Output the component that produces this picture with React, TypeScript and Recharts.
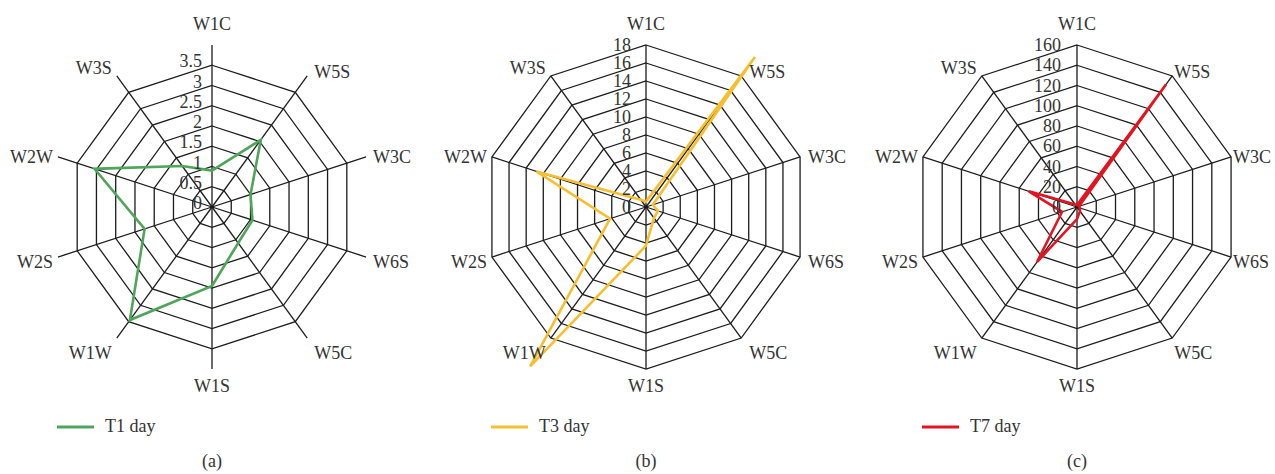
import React from 'react';
import {
  RadarChart,
  Radar,
  PolarGrid,
  PolarAngleAxis,
  PolarRadiusAxis,
  Legend,
} from 'recharts';

// Sampling sites, clockwise from the top
const sites = ['W1C', 'W5S', 'W3C', 'W6S', 'W5C', 'W1S', 'W1W', 'W2S', 'W2W', 'W3S'];

// Measured values per site for each sampling day
const t1Values = [0.9, 2.05, 1.0, 1.05, 1.1, 1.95, 3.45, 1.75, 3.05, 1.25];
const t3Values = [0.6, 20.6, 0.8, 1.4, 1.5, 4.3, 21.9, 4.2, 12.8, 1.0];
const t7Values = [2, 149.5, 2, 3, 5, 12, 67, 15.5, 50, 3];

// Radial tick labels
const t1Ticks = [0, 0.5, 1, 1.5, 2, 2.5, 3, 3.5];
const t3Ticks = [0, 2, 4, 6, 8, 10, 12, 14, 16, 18];
const t7Ticks = [0, 20, 40, 60, 80, 100, 120, 140, 160];

const seriesNames = ['T1 day', 'T3 day', 'T7 day'];
const captions = ['(a)', '(b)', '(c)'];

const FONT = 'Liberation Serif, Times New Roman, DejaVu Serif, serif';
const TEXT = '#333';
const GRID = '#1c1c1c';
const TICK_SIZE = 8;
const FONT_SIZE = 18;

const makeAngleTick = (sideGap: number) => (props: any) => {
  const { x, y, payload } = props;
  const a = (payload.coordinate * Math.PI) / 180;
  const cos = Math.cos(a);
  const sin = Math.sin(a);
  const vx = x - TICK_SIZE * cos;
  const vy = y + TICK_SIZE * sin;
  let anchor: 'start' | 'middle' | 'end' = 'middle';
  let tx = vx;
  if (cos > 0.01) {
    anchor = 'start';
    tx = vx + sideGap;
  } else if (cos < -0.01) {
    anchor = 'end';
    tx = vx - 5;
  }
  let dy = 0;
  if (sin > 0.99) dy = -21;
  else if (sin < -0.99) dy = 17;
  else if (sin > 0.5) dy = cos > 0 ? -4 : -8;
  else if (sin > 0) dy = 0;
  else if (sin > -0.5) dy = 5;
  else dy = 15;
  return (
    <text
      x={tx}
      y={vy + dy}
      textAnchor={anchor}
      dominantBaseline="central"
      style={{ fontFamily: FONT, fontSize: FONT_SIZE }}
      fill={TEXT}
    >
      {payload.value}
    </text>
  );
};

const makeRadiusTick = (gap: number, dy: number) => (props: any) => {
  const { x, y, payload } = props;
  return (
    <text
      x={x - gap}
      y={y + dy}
      textAnchor="end"
      dominantBaseline="central"
      style={{ fontFamily: FONT, fontSize: FONT_SIZE }}
      fill={TEXT}
    >
      {payload.value}
    </text>
  );
};

const LegendContent = (props: any) => {
  const item = props.payload && props.payload[0];
  if (!item) return null;
  return (
    <div style={{ display: 'flex', alignItems: 'center', fontFamily: FONT, fontSize: FONT_SIZE, color: TEXT }}>
      <svg width={37} height={6} style={{ display: 'block' }}>
        <line x1={0} y1={3} x2={37} y2={3} stroke={item.color} strokeWidth={3} />
      </svg>
      <span style={{ marginLeft: 11 }}>{item.value}</span>
    </div>
  );
};

type PanelProps = {
  values: number[];
  ticks: number[];
  name: string;
  color: string;
  cx: number;
  labelGap: number;
  labelDy: number;
  sideGap: number;
  legendLeft: number;
  caption: string;
  left: number;
};

function Panel({ values, ticks, name, color, cx, labelGap, labelDy, sideGap, legendLeft, caption, left }: PanelProps) {
  const data = sites.map((s, i) => ({ site: s, value: values[i] }));
  const max = ticks[ticks.length - 1];
  return (
    <div style={{ position: 'absolute', left, top: 0, width: 425, height: 474 }}>
      <RadarChart
        width={425}
        height={474}
        data={data}
        cx={cx}
        cy={207}
        outerRadius={162}
        margin={{ top: 0, right: 0, bottom: 0, left: 0 }}
      >
        <PolarGrid gridType="polygon" stroke={GRID} strokeWidth={1.3} />
        <PolarAngleAxis
          dataKey="site"
          tick={makeAngleTick(sideGap)}
          tickLine={false}
          axisLine={false}
          tickSize={TICK_SIZE}
        />
        <PolarRadiusAxis
          angle={90}
          type="number"
          domain={[0, max]}
          ticks={ticks}
          allowDataOverflow
          axisLine={false}
          tickLine={false}
          tick={makeRadiusTick(labelGap, labelDy)}
        />
        <Radar
          name={name}
          dataKey="value"
          stroke={color}
          strokeWidth={2.6}
          fill="none"
          fillOpacity={0}
          dot={false}
          isAnimationActive={false}
        />
        <Legend
          layout="horizontal"
          verticalAlign="middle"
          align="center"
          content={LegendContent}
          wrapperStyle={{ left: legendLeft, top: 416, width: 'auto' }}
        />
      </RadarChart>
      <div
        style={{
          position: 'absolute',
          left: cx - 40,
          width: 80,
          top: 451,
          textAlign: 'center',
          fontFamily: FONT,
          fontSize: FONT_SIZE,
          color: TEXT,
        }}
      >
        {caption}
      </div>
    </div>
  );
}

export default function App() {
  return (
    <div style={{ position: 'absolute', left: 0, top: 0, width: 1275, height: 474, background: '#fff' }}>
      <Panel
        values={t1Values}
        ticks={t1Ticks}
        name={seriesNames[0]}
        color="#4fa55b"
        cx={212}
        labelGap={10}
        labelDy={-4}
        sideGap={7}
        legendLeft={57}
        caption={captions[0]}
        left={0}
      />
      <Panel
        values={t3Values}
        ticks={t3Ticks}
        name={seriesNames[1]}
        color="#f6bf30"
        cx={221}
        labelGap={15}
        labelDy={0}
        sideGap={8}
        legendLeft={66}
        caption={captions[1]}
        left={425}
      />
      <Panel
        values={t7Values}
        ticks={t7Ticks}
        name={seriesNames[2]}
        color="#e3141f"
        cx={227}
        labelGap={16}
        labelDy={0}
        sideGap={2}
        legendLeft={72}
        caption={captions[2]}
        left={850}
      />
    </div>
  );
}
